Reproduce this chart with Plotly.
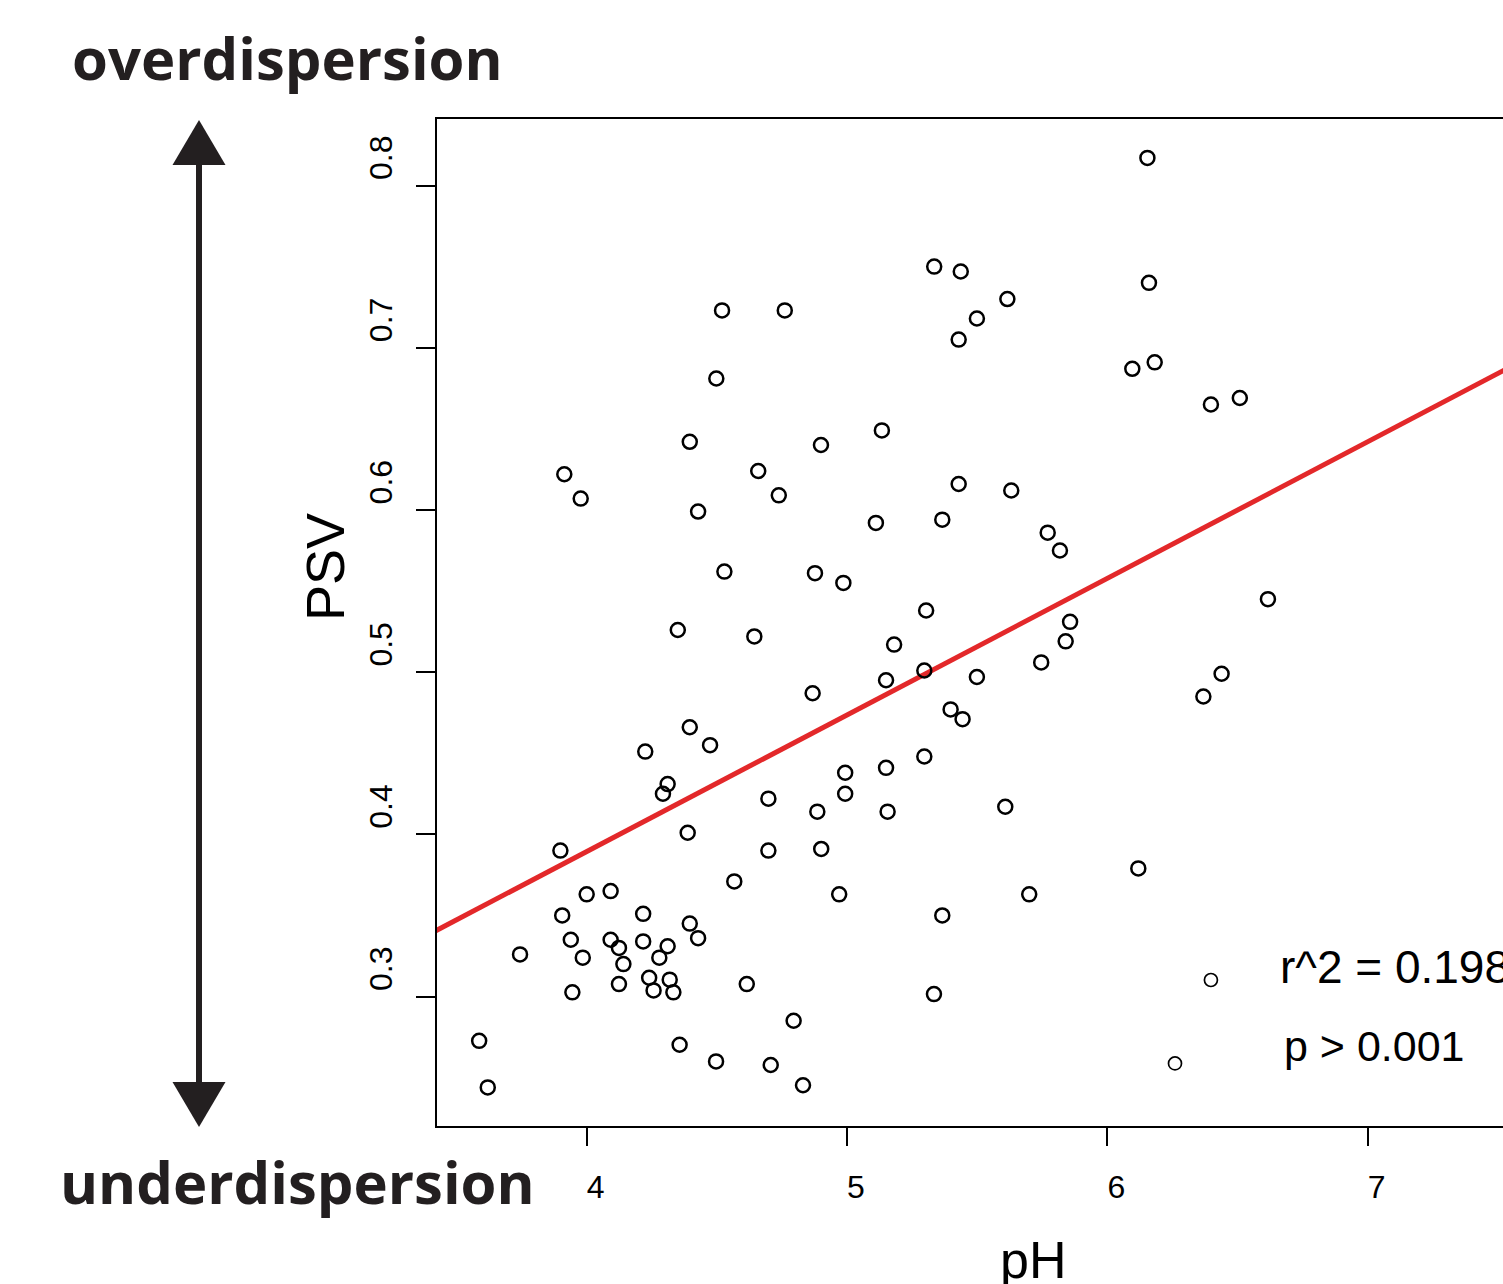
import plotly.graph_objects as go

# ---------------- data ----------------
ph = [4.520, 4.761, 4.498, 4.396, 6.154, 5.335, 5.437, 5.616, 5.499, 5.429,
      6.160, 6.096, 6.182, 5.134, 4.900, 6.398, 6.509, 3.914, 3.977, 4.428,
      4.659, 4.738, 4.529, 4.350, 4.644, 4.396, 4.474, 4.225, 4.311, 4.293,
      5.429, 5.631, 5.111, 5.366, 5.771, 5.818, 4.877, 4.986, 5.304, 5.181,
      5.857, 5.840, 5.746, 5.499, 5.150, 5.297, 4.868, 5.398, 5.444, 5.297,
      4.993, 5.150, 4.993, 6.617, 6.439, 6.369, 4.698, 4.388, 4.698, 3.899,
      4.567, 4.000, 4.092, 3.906, 4.217, 4.396, 4.428, 3.939, 4.092, 4.124,
      4.217, 4.311, 3.744, 3.985, 4.279, 4.141, 4.240, 4.319, 4.124, 4.615,
      3.945, 4.257, 4.333, 4.795, 3.587, 4.357, 4.497, 4.707, 3.620, 4.831,
      4.886, 5.156, 5.608, 4.901, 4.970, 5.366, 5.700, 6.119, 5.334]
psv = [0.723, 0.723, 0.681, 0.642, 0.817, 0.750, 0.747, 0.730, 0.718, 0.705,
       0.740, 0.687, 0.691, 0.649, 0.640, 0.665, 0.669, 0.622, 0.607, 0.599,
       0.624, 0.609, 0.562, 0.526, 0.522, 0.466, 0.455, 0.451, 0.431, 0.425,
       0.616, 0.612, 0.592, 0.594, 0.586, 0.575, 0.561, 0.555, 0.538, 0.517,
       0.531, 0.519, 0.506, 0.497, 0.495, 0.501, 0.487, 0.477, 0.471, 0.448,
       0.438, 0.441, 0.425, 0.545, 0.499, 0.485, 0.422, 0.401, 0.390, 0.390,
       0.371, 0.363, 0.365, 0.350, 0.351, 0.345, 0.336, 0.335, 0.335, 0.330,
       0.334, 0.331, 0.326, 0.324, 0.324, 0.320, 0.3116, 0.3104, 0.3077, 0.3077,
       0.3026, 0.3038, 0.3026, 0.2851, 0.2727, 0.2703, 0.2600, 0.2578, 0.2440, 0.2453,
       0.414, 0.414, 0.417, 0.391, 0.363, 0.350, 0.363, 0.379, 0.3015]
# two points drawn slightly thinner in the original
ph_thin = [6.398, 6.260]
psv_thin = [0.3102, 0.2588]

fit_intercept = 0.0526
fit_slope = 0.0842

x_ticks = [4, 5, 6, 7]
x_tick_labels = ["4", "5", "6", "7"]
y_ticks = [0.3, 0.4, 0.5, 0.6, 0.7, 0.8]
y_tick_labels = ["0.3", "0.4", "0.5", "0.6", "0.7", "0.8"]

x_range = [3.425, 7.520]
y_range = [0.2202, 0.8410]

stat_lines = ["r^2 = 0.198", "p > 0.001"]

# ---------------- layout geometry ----------------
W, H = 1503, 1284
L, T, R, B = 437, 119, 1503, 1126


def px(xp):
    return (xp - L) / (R - L)


def py(yp):
    return (B - yp) / (B - T)


DARK = "#231F20"
TICKFONT = "Liberation Sans, Arial, sans-serif"
BOLDFONT = "Open Sans, sans-serif"

fig = go.Figure()

fit_x = [x_range[0] - 0.05, x_range[1] + 0.05]
fit_y = [fit_intercept + fit_slope * v for v in fit_x]
fig.add_trace(go.Scatter(x=fit_x, y=fit_y, mode="lines",
                         line=dict(color="#E3282A", width=5),
                         hoverinfo="skip", showlegend=False))

fig.add_trace(go.Scatter(x=ph, y=psv, mode="markers",
                         marker=dict(symbol="circle-open", size=14, color="black",
                                     line=dict(width=2.5, color="black")),
                         showlegend=False, cliponaxis=False))
fig.add_trace(go.Scatter(x=ph_thin, y=psv_thin, mode="markers",
                         marker=dict(symbol="circle-open", size=13, color="black",
                                     line=dict(width=1.7, color="black")),
                         showlegend=False, cliponaxis=False))

fig.update_layout(
    width=W, height=H,
    margin=dict(l=L, r=W - R, t=T, b=H - B, pad=0),
    paper_bgcolor="white", plot_bgcolor="white",
    showlegend=False,
    xaxis=dict(range=x_range, showgrid=False, zeroline=False,
               showline=True, linecolor="black", linewidth=2, mirror=True,
               ticks="outside", ticklen=18, tickwidth=2, tickcolor="black",
               tickvals=x_ticks, ticktext=x_tick_labels,
               tickfont=dict(family=TICKFONT, size=32, color="black"),
               ticklabelshift=9, ticklabelstandoff=14),
    yaxis=dict(range=y_range, showgrid=False, zeroline=False,
               showline=True, linecolor="black", linewidth=2, mirror=False,
               ticks="outside", ticklen=19, tickwidth=2, tickcolor="black",
               tickvals=y_ticks, ticktext=y_tick_labels, tickangle=-90,
               tickfont=dict(family=TICKFONT, size=32, color="black"),
               ticklabelshift=-23, ticklabelstandoff=11),
)

ann = []
ann.append(dict(text="PSV", x=px(325), y=py(567), xref="paper", yref="paper",
                showarrow=False, textangle=-90, xanchor="center", yanchor="middle",
                font=dict(family=TICKFONT, size=54, color="black")))
ann.append(dict(text="pH", x=px(1033), y=py(1260), xref="paper", yref="paper",
                showarrow=False, xanchor="center", yanchor="middle",
                font=dict(family=TICKFONT, size=52, color="black")))
ann.append(dict(text=stat_lines[0], x=px(1278), y=py(967), xref="paper", yref="paper",
                showarrow=False, xanchor="left", yanchor="middle",
                font=dict(family=TICKFONT, size=46, color="black")))
ann.append(dict(text=stat_lines[1], x=px(1282), y=py(1046), xref="paper", yref="paper",
                showarrow=False, xanchor="left", yanchor="middle",
                font=dict(family=TICKFONT, size=43, color="black")))
ann.append(dict(text="<b>overdispersion</b>", x=px(287), y=py(58), xref="paper", yref="paper",
                showarrow=False, xanchor="center", yanchor="middle",
                font=dict(family=BOLDFONT, size=58, color=DARK)))
ann.append(dict(text="<b>underdispersion</b>", x=px(297), y=py(1181), xref="paper", yref="paper",
                showarrow=False, xanchor="center", yanchor="middle",
                font=dict(family=BOLDFONT, size=58, color=DARK)))
fig.update_layout(annotations=ann)

# double-headed vertical arrow
shapes = [
    dict(type="line", xref="paper", yref="paper",
         x0=px(199), x1=px(199), y0=py(160), y1=py(1087),
         line=dict(color=DARK, width=6)),
    dict(type="path", xref="paper", yref="paper",
         path=f"M {px(199)},{py(120)} L {px(172.5)},{py(165)} L {px(225.5)},{py(165)} Z",
         fillcolor=DARK, line=dict(color=DARK, width=0)),
    dict(type="path", xref="paper", yref="paper",
         path=f"M {px(199)},{py(1127)} L {px(172.5)},{py(1082)} L {px(225.5)},{py(1082)} Z",
         fillcolor=DARK, line=dict(color=DARK, width=0)),
]
fig.update_layout(shapes=shapes)

fig.write_html("out.html", config={"displayModeBar": False},
               post_script="document.body.style.margin='0';document.body.style.overflow='hidden';")
